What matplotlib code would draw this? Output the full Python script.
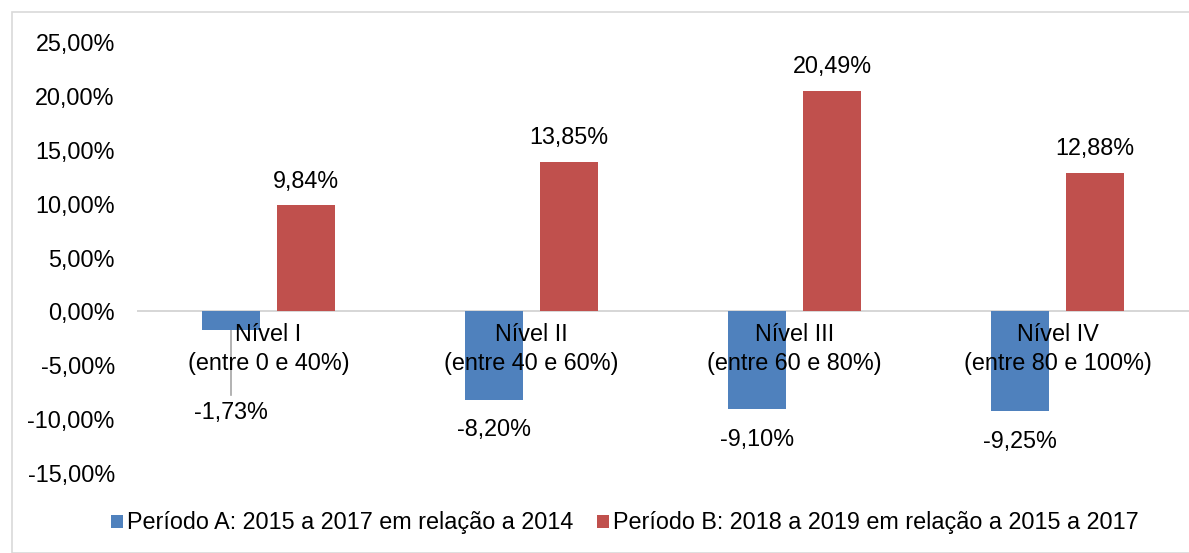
import matplotlib.pyplot as plt
import numpy as np
from matplotlib.patches import Rectangle

plt.rcParams['font.family'] = ['Liberation Sans', 'DejaVu Sans']

categories = ['Nível I\n(entre 0 e 40%)', 'Nível II\n(entre 40 e 60%)',
              'Nível III\n(entre 60 e 80%)', 'Nível IV\n(entre 80 e 100%)']
periodo_a = [-1.73, -8.20, -9.10, -9.25]
periodo_b = [9.84, 13.85, 20.49, 12.88]
label_a = 'Período A: 2015 a 2017 em relação a 2014'
label_b = 'Período B: 2018 a 2019 em relação a 2015 a 2017'

blue = '#4f81bd'
red = '#c0504d'
fs = 16.8

def pct(v):
    return ('%.2f%%' % v).replace('.', ',')

fig = plt.figure(figsize=(11.89, 5.53), dpi=100)
fig.patches.append(Rectangle((12 / 1189, 0), 1, 1 - 12 / 553, transform=fig.transFigure,
                             fill=False, edgecolor='#d9d9d9', linewidth=1.2))
ax = fig.add_axes([137 / 1189, 1 - 473 / 553, 1052 / 1189, 431 / 553])

x = np.arange(len(categories))
w = 0.224
off = 0.1426
ax.bar(x - off, periodo_a, w, color=blue, label=label_a, zorder=2)
ax.bar(x + off, periodo_b, w, color=red, label=label_b, zorder=2)

ax.set_xlim(-0.5, len(categories) - 0.5)
ax.set_ylim(-15, 25)
ax.set_yticks(np.arange(-15, 26, 5))
ax.set_yticklabels([pct(v) for v in np.arange(-15, 26, 5)])
ax.axhline(0, color='#d0d0d0', linewidth=1.2, zorder=1)

for s in ax.spines.values():
    s.set_visible(False)
ax.tick_params(axis='y', length=0, labelsize=fs, pad=16)
ax.tick_params(axis='x', length=0)
ax.set_xticks([])

# category labels just under the zero line
for i, c in enumerate(categories):
    ax.text(i, -1.1, c, ha='center', va='top', fontsize=fs, linespacing=1.3, zorder=3)

# data labels
for i, v in enumerate(periodo_a):
    if i == 0:
        ax.text(i - off, v - 7.7, pct(v), ha='center', va='center', fontsize=fs)
        ax.plot([i - off, i - off], [v, v - 6.0], color='#a6a6a6', linewidth=1.2, zorder=1)
    else:
        ax.text(i - off, v - 2.8, pct(v), ha='center', va='center', fontsize=fs)
for i, v in enumerate(periodo_b):
    ax.text(i + off, v + 2.25, pct(v), ha='center', va='center', fontsize=fs)

fig.legend(loc='center', bbox_to_anchor=(625 / 1189, 1 - 523 / 553), ncol=2, frameon=False,
           fontsize=fs, handlelength=0.5, handleheight=0.5, handletextpad=0.2,
           columnspacing=1.0)

fig.savefig('out.png', dpi=100)
